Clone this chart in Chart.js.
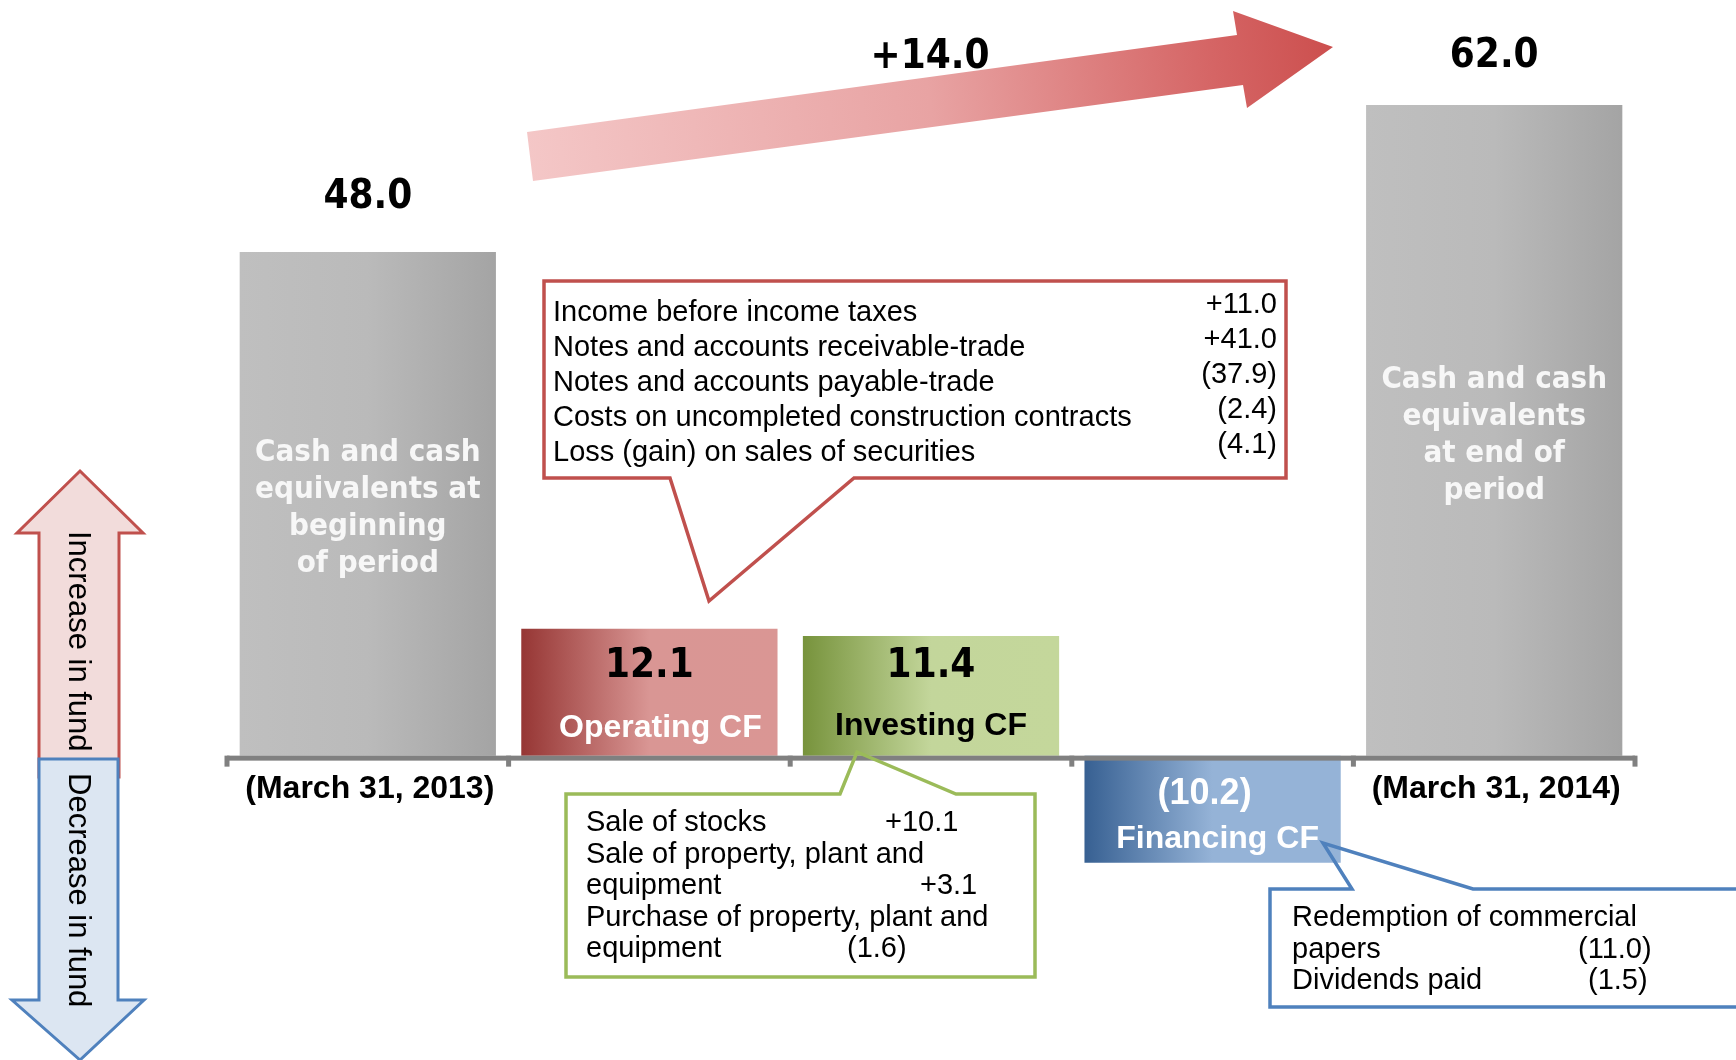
<!DOCTYPE html>
<html>
<head>
<meta charset="utf-8">
<title>Cash flow</title>
<script src="https://cdn.jsdelivr.net/npm/chart.js@4.4.1/dist/chart.umd.min.js"></script>
<style>
  body { margin: 0; background: #ffffff; }
  #grafico { display: block; }
</style>
</head>
<body>
<canvas id="grafico" width="1736" height="1060"></canvas>
<script>
// data
const categories = ['Beginning of period', 'Operating CF', 'Investing CF', 'Financing CF', 'End of period'];
const values = [48.0, 12.1, 11.4, -10.2, 62.0];
const value_labels = ['48.0', '12.1', '11.4', '(10.2)', '62.0'];
const cf_names = ['', 'Operating CF', 'Investing CF', 'Financing CF', ''];
const date_labels = ['(March 31, 2013)', '', '', '', '(March 31, 2014)'];
const bar_texts = [
  ['Cash and cash', 'equivalents at', 'beginning', 'of period'],
  [], [], [],
  ['Cash and cash', 'equivalents', 'at end of', 'period']
];
const net_change = '+14.0';

const operating_items = ['Income before income taxes', 'Notes and accounts receivable-trade', 'Notes and accounts payable-trade', 'Costs on uncompleted construction contracts', 'Loss (gain) on sales of securities'];
const operating_amounts = ['+11.0', '+41.0', '(37.9)', '(2.4)', '(4.1)'];
const investing_items = ['Sale of stocks', 'Sale of property, plant and', 'equipment', 'Purchase of property, plant and', 'equipment'];
const investing_amounts = ['+10.1', '', '+3.1', '', '(1.6)'];
const financing_items = ['Redemption of commercial', 'papers', 'Dividends paid'];
const financing_amounts = ['', '(11.0)', '(1.5)'];

const bar_colors = [
  ['#bfbfbf', '#bababa', '#a4a4a4'],
  ['#963634', '#d99694', '#da9694'],
  ['#77933c', '#c3d69b', '#c4d79b'],
  ['#376092', '#95b3d7', '#95b3d7'],
  ['#bfbfbf', '#bababa', '#a4a4a4']
];

const FONT_NUM = '"DejaVu Sans Condensed", "DejaVu Sans", sans-serif';
const FONT_TXT = '"Liberation Sans", Arial, sans-serif';

function relleno_barra(context) {
  let chart = context.chart;
  let colores = bar_colors[context.dataIndex];
  if (!chart.chartArea || !chart.scales.x) return colores[1];
  let escala = chart.scales.x;
  let centro = escala.getPixelForValue(context.dataIndex);
  let ancho = escala.width / categories.length * 0.91;
  let g = chart.ctx.createLinearGradient(centro - ancho / 2, 0, centro + ancho / 2, 0);
  g.addColorStop(0, colores[0]);
  g.addColorStop(0.5, colores[1]);
  g.addColorStop(1, colores[2]);
  return g;
}

function texto(ctx, str, x, y, font, color, align) {
  ctx.font = font;
  ctx.fillStyle = color;
  ctx.textAlign = align || 'center';
  ctx.textBaseline = 'middle';
  ctx.fillText(str, x, y);
}

function poligono(ctx, puntos) {
  ctx.beginPath();
  ctx.moveTo(puntos[0][0], puntos[0][1]);
  for (let p of puntos.slice(1)) ctx.lineTo(p[0], p[1]);
  ctx.closePath();
}

function callout(ctx, caja, puntero, color) {
  // caja: [x0, y0, x1, y1]; the pointer leaves the top or bottom edge
  let [x0, y0, x1, y1] = caja;
  let pts;
  if (puntero.lado == 'bottom') {
    pts = [[x0, y0], [x1, y0], [x1, y1], [puntero.b, y1], puntero.tip, [puntero.a, y1], [x0, y1]];
  } else {
    pts = [[x0, y0], [puntero.a, y0], puntero.tip, [puntero.b, y0], [x1, y0], [x1, y1], [x0, y1]];
  }
  poligono(ctx, pts);
  ctx.lineWidth = 3.5;
  ctx.lineJoin = 'miter';
  ctx.strokeStyle = color;
  ctx.stroke();
}

function texto_vertical(ctx, str, x, y) {
  ctx.save();
  ctx.translate(x, y);
  ctx.rotate(Math.PI / 2);
  ctx.font = '31px ' + FONT_TXT;
  ctx.fillStyle = '#000000';
  ctx.textAlign = 'left';
  ctx.textBaseline = 'middle';
  ctx.fillText(str, 0, 0);
  ctx.restore();
}

const extras = {
  id: 'extras',
  afterDatasetsDraw(chart) {
    let ctx = chart.ctx;
    let area = chart.chartArea;
    let base = chart.scales.y.getPixelForValue(0);
    let paso = (area.right - area.left) / categories.length;
    let barras = chart.getDatasetMeta(0).data;
    ctx.save();

    // category axis at zero
    ctx.fillStyle = '#808080';
    ctx.fillRect(area.left, base, area.right - area.left, 5);
    for (let i = 0; i <= categories.length; i++) {
      ctx.fillRect(area.left + i * paso - 2.5, base, 5, 11);
    }

    // labels on and around the bars
    barras.forEach((b, i) => {
      if (i == 0 || i == 4) {
        texto(ctx, value_labels[i], b.x, b.y - (i == 0 ? 54 : 48), 'bold 40px ' + FONT_NUM, '#000000');
        let lineas = bar_texts[i];
        let y0 = (b.y + base) / 2 + 5 - (lineas.length - 1) * 37 / 2;
        lineas.forEach((l, k) => texto(ctx, l, b.x, y0 + k * 37, 'bold 31px ' + FONT_NUM, '#f7f7f7'));
        texto(ctx, date_labels[i], b.x + 2, base + 34, 'bold 32px ' + FONT_TXT, '#000000');
      } else if (values[i] >= 0) {
        texto(ctx, value_labels[i], b.x, base - 89, 'bold 40px ' + FONT_NUM, '#000000');
        texto(ctx, cf_names[i], b.x + (i == 1 ? 11 : 0), base - (i == 1 ? 27 : 29), 'bold 32px ' + FONT_TXT, i == 1 ? '#ffffff' : '#000000');
      } else {
        texto(ctx, value_labels[i], b.x - 8, base + 38, 'bold 36px ' + FONT_TXT, '#ffffff');
        texto(ctx, cf_names[i], b.x + 5, base + 84, 'bold 32px ' + FONT_TXT, '#ffffff');
      }
    });

    // big arrow for the net change
    let g = ctx.createLinearGradient(527, 156, 1333, 47);
    g.addColorStop(0, '#f4c7c7');
    g.addColorStop(0.5, '#e8a3a3');
    g.addColorStop(0.85, '#d56565');
    g.addColorStop(1, '#cc4f4e');
    poligono(ctx, [[527, 132], [1237, 35], [1233, 11], [1333, 47], [1247, 108], [1243, 85], [533, 181]]);
    ctx.fillStyle = g;
    ctx.fill();
    texto(ctx, net_change, 930, 58, 'bold 40px ' + FONT_NUM, '#000000');

    // operating CF callout
    callout(ctx, [544, 281, 1286, 478], {lado: 'bottom', a: 670, b: 854, tip: [709, 601]}, '#c0504d');
    operating_items.forEach((t, k) => {
      texto(ctx, t, 553, 313 + k * 35, '29px ' + FONT_TXT, '#000000', 'left');
      texto(ctx, operating_amounts[k], 1277, 305 + k * 35, '29px ' + FONT_TXT, '#000000', 'right');
    });

    // investing CF callout
    callout(ctx, [566, 794, 1035, 977], {lado: 'top', a: 840, b: 956, tip: [857, 752]}, '#9bbb59');
    let inv_x = [885, 0, 920, 0, 847];
    investing_items.forEach((t, k) => {
      texto(ctx, t, 586, 823 + k * 31.6, '29px ' + FONT_TXT, '#000000', 'left');
      if (investing_amounts[k]) texto(ctx, investing_amounts[k], inv_x[k], 823 + k * 31.6, '29px ' + FONT_TXT, '#000000', 'left');
    });

    // financing CF callout
    callout(ctx, [1270, 889, 1760, 1007], {lado: 'top', a: 1352, b: 1473, tip: [1323, 843]}, '#4f81bd');
    let fin_x = [0, 1578, 1588];
    financing_items.forEach((t, k) => {
      texto(ctx, t, 1292, 918 + k * 31.5, '29px ' + FONT_TXT, '#000000', 'left');
      if (financing_amounts[k]) texto(ctx, financing_amounts[k], fin_x[k], 918 + k * 31.5, '29px ' + FONT_TXT, '#000000', 'left');
    });

    // increase / decrease arrows on the left
    ctx.lineWidth = 3;
    ctx.lineJoin = 'miter';
    poligono(ctx, [[80, 471], [143, 533], [119, 533], [119, 777], [39, 777], [39, 533], [17, 533]]);
    ctx.fillStyle = '#f2dcdb';
    ctx.fill();
    ctx.strokeStyle = '#c0504d';
    ctx.stroke();
    texto_vertical(ctx, 'Increase in fund', 78, 531);

    poligono(ctx, [[39, 759], [118, 759], [118, 1000], [144, 1000], [80, 1060], [12, 1000], [39, 1000]]);
    ctx.fillStyle = '#dce6f2';
    ctx.fill();
    ctx.strokeStyle = '#4f81bd';
    ctx.stroke();
    texto_vertical(ctx, 'Decrease in fund', 78, 773);

    ctx.restore();
  }
};

const data = {
  labels: categories,
  datasets: [{
    label: 'Cash flow',
    data: values,
    backgroundColor: relleno_barra,
    borderWidth: 0,
    barPercentage: 0.91,
    categoryPercentage: 1.0
  }]
};

const config = {
  type: 'bar',
  data: data,
  options: {
    responsive: false,
    animation: false,
    devicePixelRatio: 1,
    layout: { padding: { left: 227, right: 101, top: 0, bottom: 0 } },
    scales: {
      x: { display: false },
      y: { display: false, min: -29, max: 72 }
    },
    plugins: {
      legend: { display: false },
      tooltip: { enabled: false }
    }
  },
  plugins: [extras]
};

let myChart = new Chart(document.querySelector('#grafico').getContext('2d'), config);
</script>
</body>
</html>
